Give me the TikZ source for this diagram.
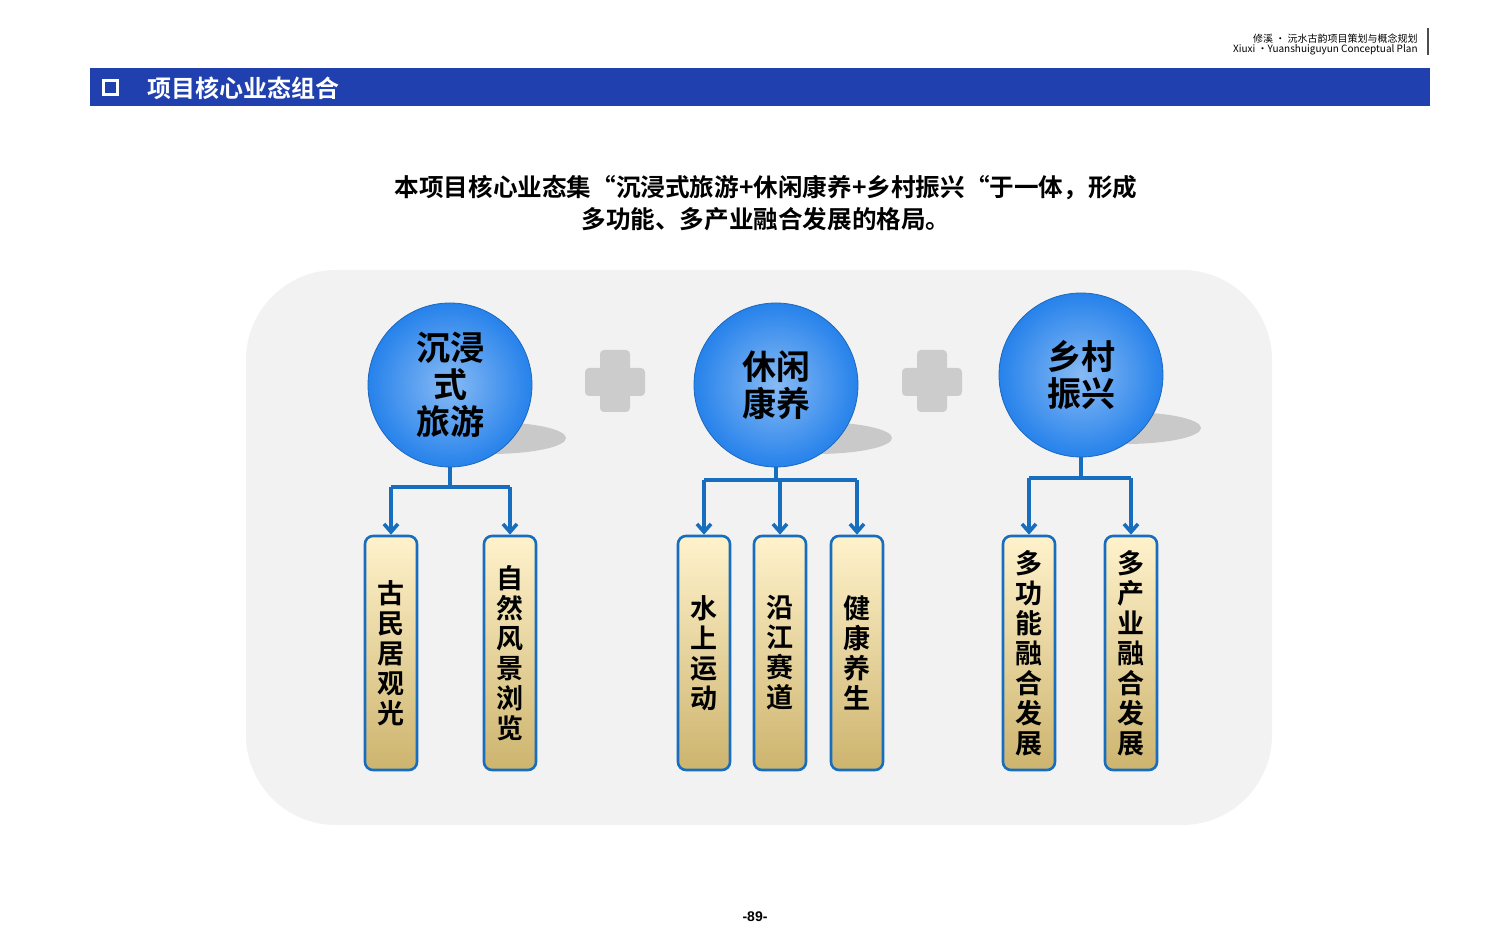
\documentclass[tikz,border=0pt]{standalone}
\usepackage{fontspec}
\setmainfont{Liberation Sans}
\newfontfamily\cjk{Noto Sans CJK SC}[BoldFont={Noto Sans CJK SC Bold}]
\usetikzlibrary{arrows.meta, shapes, positioning, shadows}
\definecolor{barblue}{RGB}{31,64,174}
\definecolor{ballblue}{RGB}{38,130,235}
\definecolor{lineblue}{RGB}{24,110,190}
\definecolor{panelgray}{RGB}{242,242,242}
\definecolor{boxtop}{RGB}{255,234,170}
\definecolor{boxbottom}{RGB}{205,180,110}
\tikzset{ballnode/.style={circle, minimum size=82pt, inner sep=0pt, draw=ballblue!80!black, line width=0.4pt, inner color=ballblue!55!white, outer color=ballblue, font=\cjk\bfseries\fontsize{17}{18.5}\selectfont, align=center},
featurenode/.style={rectangle, rounded corners=4pt, draw=lineblue, line width=1.3pt, minimum width=26pt, minimum height=117pt, top color=boxtop!60, bottom color=boxbottom, font=\cjk\bfseries\fontsize{13.5}{15}\selectfont, align=center, inner sep=0pt},
linkarrow/.style={draw=lineblue, line width=1.8pt, -{Straight Barb[length=4pt, width=7pt]}}}
\begin{document}
\begin{tikzpicture}[x=0.5pt, y=-0.5pt]
        \useasboundingbox (0,0) rectangle (1512,945);
        \fill[white] (0,0) rectangle (1512,945);
        % Header
        \node[anchor=east, align=right, font=\cjk\fontsize{5}{6}\selectfont, inner sep=0pt] (headertext) at (1418,44) {修溪 · 沅水古韵项目策划与概念规划\\[-1pt]\fontsize{5}{6}\selectfont Xiuxi ·Yuanshuiguyun Conceptual Plan};
        \draw[gray!60!black, line width=0.6pt] (1428,28) -- (1428,55);
        \fill[barblue] (90,68) rectangle (1430,106);
        \draw[white, line width=1.5pt] (103,81) rectangle (117,95);
        \node[anchor=west, text=white, font=\cjk\bfseries\fontsize{12}{14}\selectfont] (headertitle) at (140,88) {项目核心业态组合};
        % Title
        \node[align=center, font=\cjk\bfseries\fontsize{12.3}{16}\selectfont] (title) at (766,203) {本项目核心业态集“沉浸式旅游+休闲康养+乡村振兴“于一体，形成\\多功能、多产业融合发展的格局。};
        % Panel
        \fill[panelgray, rounded corners=45pt] (246,270) rectangle (1272,825);
        % Shadows
        \foreach \sx/\sy in {490/438, 816/438, 1125/428} {
            \fill[gray!55, opacity=0.7] (\sx,\sy) ellipse (38pt and 8pt);
        }
        % Plus signs
        \foreach \px in {615, 932} {
            \fill[gray!40, rounded corners=2pt] (\px-30,368) rectangle (\px+30,396);
            \fill[gray!40, rounded corners=2pt] (\px-15,350) rectangle (\px+15,412);
        }
        % Balls
        \node[ballnode] (tour) at (450,385) {沉浸\\式\\旅游};
        \node[ballnode] (leisure) at (776,385) {休闲\\康养};
        \node[ballnode] (rural) at (1081,375) {乡村\\振兴};
        % Features
        \foreach \name/\fx/\ftext in {
            oldhouse/391/古\\民\\居\\观\\光,
            scenery/510/自\\然\\风\\景\\浏\\览,
            water/704/水\\上\\运\\动,
            river/780/沿\\江\\赛\\道,
            health/857/健\\康\\养\\生,
            multifunc/1029/多\\功\\能\\融\\合\\发\\展,
            multiind/1131/多\\产\\业\\融\\合\\发\\展} {
            \node[featurenode] (\name) at (\fx,653) {\ftext};
        }
        % Connectors
        \draw[lineblue, line width=1.8pt] (tour.south) -- (450,487) coordinate (tourbar);
        \draw[lineblue, line width=1.8pt] (oldhouse.north |- tourbar) -- (scenery.north |- tourbar);
        \foreach \target in {oldhouse, scenery} {
            \draw[linkarrow] (\target.north |- tourbar) -- (\target.north);
        }
        \draw[lineblue, line width=1.8pt] (leisure.south) -- (776,480) coordinate (leisurebar);
        \draw[lineblue, line width=1.8pt] (water.north |- leisurebar) -- (health.north |- leisurebar);
        \foreach \target in {water, river, health} {
            \draw[linkarrow] (\target.north |- leisurebar) -- (\target.north);
        }
        \draw[lineblue, line width=1.8pt] (rural.south) -- (1081,478) coordinate (ruralbar);
        \draw[lineblue, line width=1.8pt] (multifunc.north |- ruralbar) -- (multiind.north |- ruralbar);
        \foreach \target in {multifunc, multiind} {
            \draw[linkarrow] (\target.north |- ruralbar) -- (\target.north);
        }
        % Page number
        \node[font=\bfseries\fontsize{7}{8}\selectfont] (pagenum) at (755,917) {-89-};
    \end{tikzpicture}
\end{document}
